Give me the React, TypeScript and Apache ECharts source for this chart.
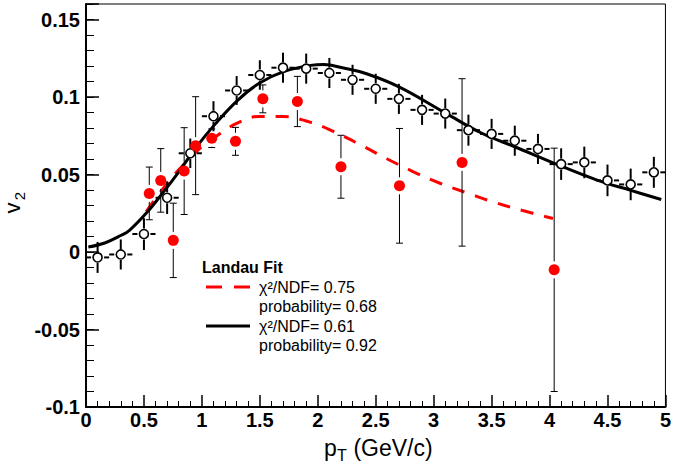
import React, { useEffect, useRef } from "react";
import * as echarts from "echarts";

// Open circles (black): pT, v2, error
const openX = [0.1, 0.3, 0.5, 0.7, 0.9, 1.1, 1.3, 1.5, 1.7, 1.9, 2.1, 2.3, 2.5, 2.7, 2.9, 3.1, 3.3, 3.5, 3.7, 3.9, 4.1, 4.3, 4.5, 4.7, 4.9];
const openY = [-0.0035, -0.0016, 0.0116, 0.035, 0.0637, 0.0876, 0.1042, 0.1142, 0.1189, 0.1183, 0.1155, 0.1111, 0.1053, 0.0988, 0.0917, 0.0893, 0.0786, 0.0762, 0.0718, 0.0665, 0.0567, 0.0578, 0.0462, 0.0436, 0.0514];
const openErr = [0.01, 0.0097, 0.0103, 0.0105, 0.0095, 0.0097, 0.0093, 0.0095, 0.0097, 0.0097, 0.0097, 0.0097, 0.0097, 0.0097, 0.0097, 0.0097, 0.01, 0.0097, 0.0097, 0.0097, 0.0102, 0.0102, 0.0102, 0.0102, 0.01];
const openXErr = 0.1;

// Red filled points
const redX = [0.546, 0.645, 0.753, 0.847, 0.946, 1.085, 1.29, 1.526, 1.824, 2.2, 2.705, 3.245, 4.04];
const redY = [0.0378, 0.0462, 0.0075, 0.0522, 0.0686, 0.0734, 0.0714, 0.0988, 0.0971, 0.055, 0.0427, 0.0578, -0.0115];
const redErr = [0.017, 0.0205, 0.024, 0.028, 0.0316, 0.006, 0.009, 0.009, 0.0162, 0.0203, 0.037, 0.054, 0.0785];

// Fit curves
const blackFitX = [0.02, 0.162, 0.304, 0.375, 0.517, 0.659, 0.801, 0.944, 1.114, 1.313, 1.498, 1.711, 1.938, 2.052, 2.223, 2.421, 2.705, 3.103, 3.416, 3.7, 4.041, 4.41, 4.695, 4.964];
const blackFitY = [0.0032, 0.0058, 0.0108, 0.014, 0.0248, 0.0378, 0.0517, 0.0669, 0.0825, 0.0982, 0.109, 0.1165, 0.1204, 0.1209, 0.1187, 0.115, 0.1064, 0.0896, 0.0766, 0.0679, 0.0572, 0.0464, 0.0399, 0.0339];
const redFitX = [0.52, 0.63, 0.8, 1.0, 1.1, 1.3, 1.5, 1.7, 1.9, 2.1, 2.4, 2.6, 2.83, 3.06, 3.29, 3.53, 3.76, 4.03];
const redFitY = [0.026, 0.0375, 0.053, 0.068, 0.0735, 0.083, 0.0875, 0.0875, 0.0845, 0.079, 0.0679, 0.06, 0.0516, 0.0442, 0.0381, 0.0319, 0.0269, 0.0216];

const xTicks = { min: 0, max: 5, interval: 0.5 };
const yTicks = { min: -0.1, max: 0.16, interval: 0.05, minor: 0.01 };

const legendTitle = "Landau Fit";
const legendLines = ["χ²/NDF= 0.75", "probability= 0.68", "χ²/NDF= 0.61", "probability= 0.92"];

const FONT = "Liberation Sans, Arial, Helvetica, sans-serif";

export default function App() {
  const ref = useRef<HTMLDivElement>(null);
  useEffect(() => {
    if (!ref.current) return;
    const chart = echarts.init(ref.current, null, { renderer: "svg" });

    const openData = openX.map((x, i) => [x, openY[i], openXErr, openErr[i]]);
    const redData = redX.map((x, i) => [x, redY[i], redErr[i]]);

    const yLabelFmt = (v: number) => {
      const r = Math.round(v * 1000) / 1000;
      if (Math.abs(r * 20 - Math.round(r * 20)) > 1e-6) return "";
      if (r > 0.155) return "";
      return String(Math.round(r * 100) / 100);
    };

    const option: any = {
      animation: false,
      backgroundColor: "#fff",
      grid: { left: 86, right: 2, top: 4, bottom: 61, show: true, borderColor: "#000", borderWidth: 1, backgroundColor: "transparent" },
      xAxis: {
        type: "value",
        min: xTicks.min,
        max: xTicks.max,
        interval: xTicks.interval,
        axisLine: { show: true, onZero: false, lineStyle: { color: "#000", width: 2 } },
        axisTick: { show: true, inside: true, length: 12, lineStyle: { color: "#000", width: 1.5 } },
        minorTick: { show: true, splitNumber: 5, length: 6, lineStyle: { color: "#000", width: 1 } },
        splitLine: { show: false },
        minorSplitLine: { show: false },
        axisLabel: { show: true, margin: 3, color: "#000", fontFamily: FONT, fontWeight: "bold", fontSize: 20, formatter: (v: number) => String(Math.round(v * 10) / 10) },
      },
      yAxis: [
        {
          type: "value",
          position: "left",
          min: yTicks.min,
          max: yTicks.max,
          interval: yTicks.minor,
          axisLine: { show: true, onZero: false, lineStyle: { color: "#000", width: 2 } },
          axisTick: { show: true, inside: true, length: 8, lineStyle: { color: "#000", width: 1 } },
          splitLine: { show: false },
          axisLabel: { show: false },
        },
        {
          type: "value",
          position: "left",
          min: yTicks.min,
          max: yTicks.max,
          interval: yTicks.interval,
          axisLine: { show: false },
          axisTick: { show: true, inside: true, length: 13, lineStyle: { color: "#000", width: 1.5 } },
          splitLine: { show: false },
          axisLabel: { show: true, margin: 6, color: "#000", fontFamily: FONT, fontWeight: "bold", fontSize: 20, formatter: yLabelFmt },
        },
      ],
      series: [
        {
          type: "line",
          name: "red fit",
          data: redFitX.map((x, i) => [x, redFitY[i]]),
          smooth: 0.4,
          showSymbol: false,
          symbol: "none",
          z: 2,
          lineStyle: { color: "#ff0000", width: 3, type: [13, 11] },
        },
        {
          type: "line",
          name: "black fit",
          data: blackFitX.map((x, i) => [x, blackFitY[i]]),
          smooth: 0.4,
          showSymbol: false,
          symbol: "none",
          z: 3,
          lineStyle: { color: "#000", width: 3 },
        },
        {
          type: "custom",
          name: "open errors",
          z: 4,
          data: openData,
          renderItem: (params: any, api: any) => {
            const x = api.value(0), y = api.value(1), ex = api.value(2), ey = api.value(3);
            const c = api.coord([x, y]);
            const t = api.coord([x, y + ey]);
            const b = api.coord([x, y - ey]);
            const l = api.coord([x - ex, y]);
            const r = api.coord([x + ex, y]);
            const gv = 5.5, gh = 6.5;
            const st = { stroke: "#000", lineWidth: 2 };
            const ch: any[] = [];
            if (t[1] < c[1] - gv) ch.push({ type: "line", shape: { x1: c[0], y1: c[1] - gv, x2: c[0], y2: t[1] }, style: st });
            if (b[1] > c[1] + gv) ch.push({ type: "line", shape: { x1: c[0], y1: c[1] + gv, x2: c[0], y2: b[1] }, style: st });
            ch.push({ type: "line", shape: { x1: c[0] - gh, y1: c[1], x2: l[0], y2: c[1] }, style: st });
            ch.push({ type: "line", shape: { x1: c[0] + gh, y1: c[1], x2: r[0], y2: c[1] }, style: st });
            return { type: "group", children: ch };
          },
        },
        {
          type: "custom",
          name: "red errors",
          z: 4,
          data: redData,
          renderItem: (params: any, api: any) => {
            const x = api.value(0), y = api.value(1), ey = api.value(2);
            const c = api.coord([x, y]);
            const t = api.coord([x, y + ey]);
            const b = api.coord([x, y - ey]);
            const g = 8.5, cap = 3.5;
            const st = { stroke: "#000", lineWidth: 1 };
            const ch: any[] = [];
            if (t[1] < c[1] - g) {
              ch.push({ type: "line", shape: { x1: c[0], y1: c[1] - g, x2: c[0], y2: t[1] }, style: st });
              ch.push({ type: "line", shape: { x1: c[0] - cap, y1: t[1], x2: c[0] + cap, y2: t[1] }, style: st });
            }
            if (b[1] > c[1] + g) {
              ch.push({ type: "line", shape: { x1: c[0], y1: c[1] + g, x2: c[0], y2: b[1] }, style: st });
              ch.push({ type: "line", shape: { x1: c[0] - cap, y1: b[1], x2: c[0] + cap, y2: b[1] }, style: st });
            }
            return { type: "group", children: ch };
          },
        },
        {
          type: "scatter",
          name: "open",
          z: 5,
          data: openX.map((x, i) => [x, openY[i]]),
          symbol: "circle",
          symbolSize: 9,
          itemStyle: { color: "#fff", borderColor: "#000", borderWidth: 1.6, opacity: 1 },
        },
        {
          type: "scatter",
          name: "red",
          z: 5,
          data: redX.map((x, i) => [x, redY[i]]),
          symbol: "circle",
          symbolSize: 11,
          itemStyle: { color: "#ff0000", opacity: 1 },
        },
      ],
      graphic: [
        { type: "text", left: undefined, x: 202, y: 267, style: { text: legendTitle, font: `bold 16px ${FONT}`, fill: "#000", textVerticalAlign: "middle" } },
        { type: "line", shape: { x1: 206, y1: 287, x2: 222, y2: 287 }, style: { stroke: "#ff0000", lineWidth: 3 } },
        { type: "line", shape: { x1: 234, y1: 287, x2: 250, y2: 287 }, style: { stroke: "#ff0000", lineWidth: 3 } },
        { type: "text", x: 259, y: 287, style: { text: legendLines[0], font: `16px ${FONT}`, fill: "#000", textVerticalAlign: "middle" } },
        { type: "text", x: 259, y: 306, style: { text: legendLines[1], font: `16px ${FONT}`, fill: "#000", textVerticalAlign: "middle" } },
        { type: "line", shape: { x1: 206, y1: 326, x2: 250, y2: 326 }, style: { stroke: "#000", lineWidth: 3 } },
        { type: "text", x: 259, y: 326, style: { text: legendLines[2], font: `16px ${FONT}`, fill: "#000", textVerticalAlign: "middle" } },
        { type: "text", x: 259, y: 345, style: { text: legendLines[3], font: `16px ${FONT}`, fill: "#000", textVerticalAlign: "middle" } },
        // y-axis title v2
        { type: "text", x: 12, y: 208, rotation: Math.PI / 2, style: { text: "v", font: `22px ${FONT}`, fill: "#000", textAlign: "center", textVerticalAlign: "middle" } },
        { type: "text", x: 19, y: 196, rotation: Math.PI / 2, style: { text: "2", font: `15px ${FONT}`, fill: "#000", textAlign: "center", textVerticalAlign: "middle" } },
        // x-axis title pT (GeV/c)
        { type: "text", x: 324, y: 448, style: { text: "p", font: `23px ${FONT}`, fill: "#000", textVerticalAlign: "middle" } },
        { type: "text", x: 337, y: 455, style: { text: "T", font: `16px ${FONT}`, fill: "#000", textVerticalAlign: "middle" } },
        { type: "text", x: 347, y: 448, style: { text: " (GeV/c)", font: `23px ${FONT}`, fill: "#000", textVerticalAlign: "middle" } },
      ],
    };
    chart.setOption(option);
    return () => chart.dispose();
  }, []);
  return <div ref={ref} style={{ position: "fixed", left: 0, top: 0, width: 674, height: 468 }} />;
}
